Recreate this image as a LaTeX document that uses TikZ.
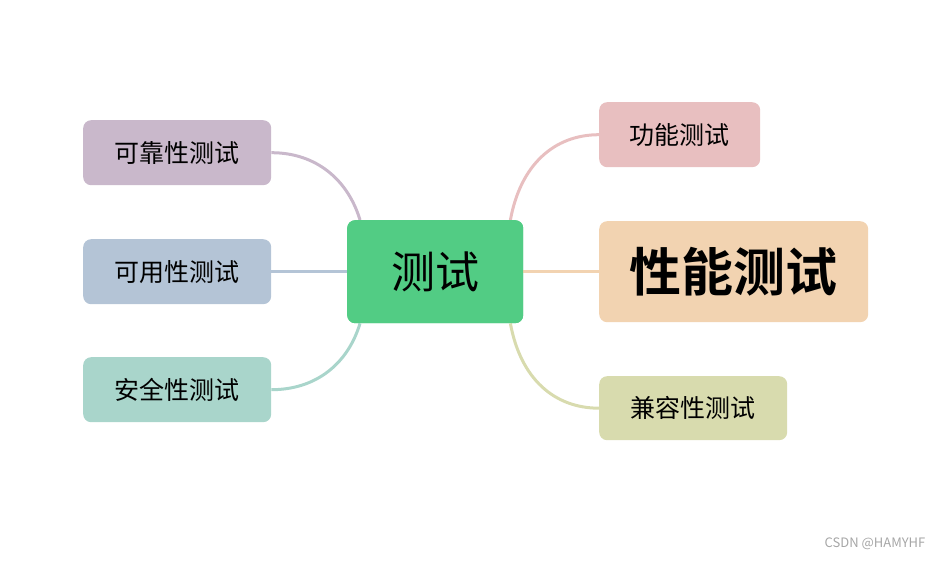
\documentclass[tikz,border=0pt]{standalone}
\usepackage{fontspec}
\setmainfont{Noto Sans CJK SC}
\newfontfamily\cjkbold{Noto Sans CJK SC Bold}
\definecolor{cg}{HTML}{52CC84}
\definecolor{ck}{HTML}{C9B8CB}
\definecolor{cy}{HTML}{B4C4D6}
\definecolor{ca}{HTML}{A9D5CB}
\definecolor{cf}{HTML}{E8BFC0}
\definecolor{cx}{HTML}{F2D3B1}
\definecolor{cj}{HTML}{D8DBAE}
\begin{document}
\begin{tikzpicture}[x=1pt,y=1pt,
  box/.style={rounded corners=8pt,inner sep=0pt,anchor=north west,font=\fontsize{25}{28}\selectfont},
  link/.style={line width=3pt}]
\useasboundingbox (0,0) rectangle (944,560);
\node[box,fill=cg,minimum width=176,minimum height=103,font=\fontsize{44}{48}\selectfont] (c) at (347,340) {测试};
\node[box,fill=ck,minimum width=188,minimum height=65] (k) at (83,440) {可靠性测试};
\node[box,fill=cy,minimum width=188,minimum height=65] (u) at (83,321) {可用性测试};
\node[box,fill=ca,minimum width=188,minimum height=65] (s) at (83,203) {安全性测试};
\node[box,fill=cf,minimum width=161,minimum height=65] (f) at (599,458) {功能测试};
\node[box,fill=cx,minimum width=269,minimum height=101,font=\cjkbold\fontsize{52}{56}\selectfont] (p) at (599,339) {性能测试};
\node[box,fill=cj,minimum width=188,minimum height=64] (j) at (599,184) {兼容性测试};
\node[text=gray!70,font=\fontsize{13}{14}\selectfont] (w) at (875,16) {CSDN @HAMYHF};
\draw[link,ck] ([xshift=13pt]c.north west) .. controls +(-12,40) and +(45,0) .. (k.east);
\draw[link,cy] (c.west) -- (u.east);
\draw[link,ca] ([xshift=13pt]c.south west) .. controls +(-12,-40) and +(45,0) .. (s.east);
\draw[link,cf] ([xshift=-13pt]c.north east) .. controls +(10,55) and +(-45,0) .. (f.west);
\draw[link,cx] (c.east) -- (p.west);
\draw[link,cj] ([xshift=-13pt]c.south east) .. controls +(10,-55) and +(-45,0) .. (j.west);
\node[box,fill=cg,minimum width=176,minimum height=103,font=\fontsize{44}{48}\selectfont] at (347,340) {测试};
\end{tikzpicture}
\end{document}
